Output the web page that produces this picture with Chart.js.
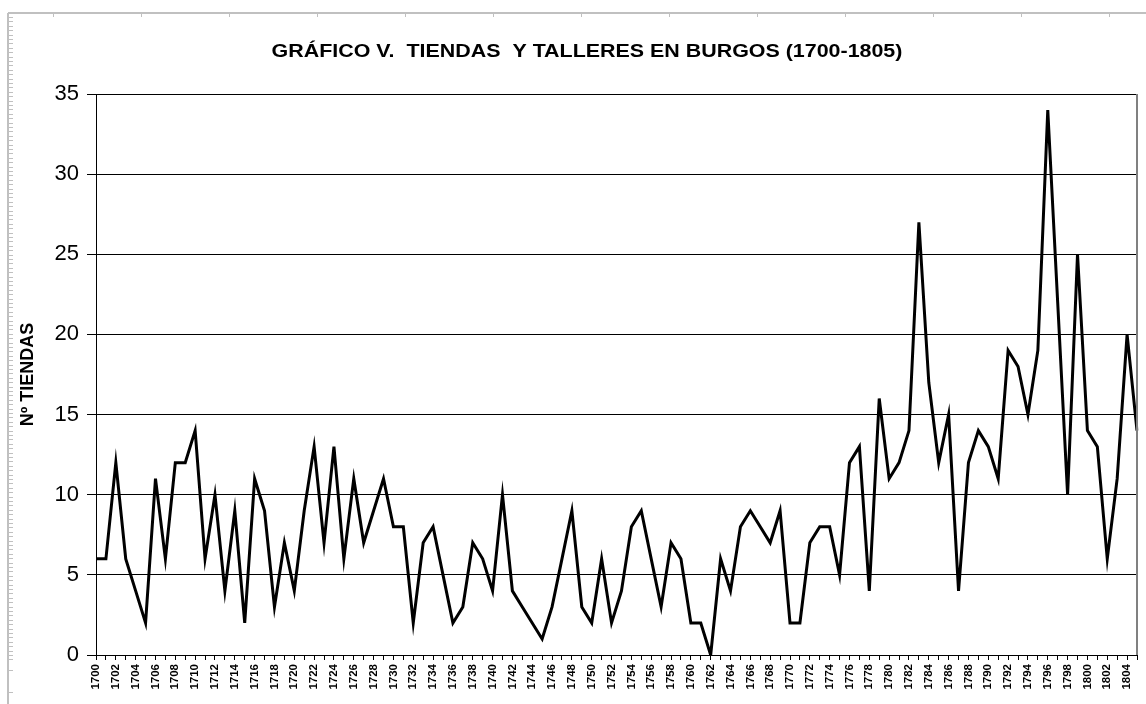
<!DOCTYPE html>
<html>
<head>
<meta charset="utf-8">
<script src="https://cdn.jsdelivr.net/npm/chart.js@4/dist/chart.umd.min.js"></script>
<style>
  html, body { margin: 0; padding: 0; background: #fff; }
  #wrap { width: 1146px; height: 704px; }
</style>
</head>
<body>
<div id="wrap"><canvas id="tiendasChart" width="1146" height="704"></canvas></div>
<script>
// Chart data
const chartTitle = 'GRÁFICO V.  TIENDAS  Y TALLERES EN BURGOS (1700-1805)';
const yAxisTitle = 'Nº TIENDAS';
const years = Array.from({ length: 106 }, (_, i) => String(1700 + i));
const tiendas = [
  6, 6, 12, 6, 4, 2, 11, 6, 12, 12,
  14, 6, 10, 4, 9, 2, 11, 9, 3, 7,
  4, 9, 13, 7, 13, 6, 11, 7, 9, 11,
  8, 8, 2, 7, 8, 5, 2, 3, 7, 6,
  4, 10, 4, 3, 2, 1, 3, 6, 9, 3,
  2, 6, 2, 4, 8, 9, 6, 3, 7, 6,
  2, 2, 0, 6, 4, 8, 9, 8, 7, 9,
  2, 2, 7, 8, 8, 5, 12, 13, 4, 16,
  11, 12, 14, 27, 17, 12, 15, 4, 12, 14,
  13, 11, 19, 18, 15, 19, 34, 22, 10, 25,
  14, 13, 6, 11, 20, 14
];

const FONT = '"Liberation Sans", Arial, sans-serif';

// Frame, title and plot border (spreadsheet look)
const framePlugin = {
  id: 'frame',
  beforeDraw(chart) {
    const c = chart.ctx;
    c.save();
    c.fillStyle = '#fff';
    c.fillRect(0, 0, chart.width, chart.height);
    c.strokeStyle = '#c0c0c0';
    c.lineWidth = 2;
    c.beginPath();
    c.moveTo(8, 13); c.lineTo(chart.width, 13);
    c.moveTo(8, 13); c.lineTo(8, chart.height);
    c.stroke();
    c.lineWidth = 1;
    c.beginPath();
    for (let x = 53; x < chart.width; x += 88) {
      c.moveTo(x + 0.5, 13); c.lineTo(x + 0.5, 17);
    }
    for (let y = 17; y < 660; y += 4.4) {
      c.moveTo(8, Math.round(y) + 0.5); c.lineTo(13, Math.round(y) + 0.5);
    }
    c.moveTo(8, 670.5); c.lineTo(13, 670.5);
    c.moveTo(8, 692.5); c.lineTo(13, 692.5);
    c.stroke();
    c.restore();
  },
  afterDraw(chart) {
    const c = chart.ctx;
    const a = chart.chartArea;
    c.save();
    c.strokeStyle = '#808080';
    c.lineWidth = 2;
    c.beginPath();
    c.moveTo(a.right, a.top);
    c.lineTo(a.right, a.bottom);
    c.stroke();
    // title, stretched a bit wider like the original
    c.fillStyle = '#000';
    c.font = 'bold 18px ' + FONT;
    c.textAlign = 'center';
    c.textBaseline = 'middle';
    c.translate(587, 52);
    c.scale(1.19, 1);
    c.fillText(chartTitle, 0, 0);
    c.restore();
  }
};

const ctx = document.getElementById('tiendasChart').getContext('2d');
const tiendasChart = new Chart(ctx, {
  type: 'line',
  data: {
    labels: years,
    datasets: [{
      label: yAxisTitle,
      data: tiendas,
      borderColor: '#000',
      borderWidth: 3,
      pointRadius: 0,
      tension: 0,
      fill: false
    }]
  },
  options: {
    responsive: false,
    animation: false,
    layout: {
      padding: { top: 94, left: 12, right: 9, bottom: 0 }
    },
    plugins: {
      legend: { display: false },
      tooltip: { enabled: false },
      title: { display: false }
    },
    scales: {
      x: {
        offset: false,
        grid: {
          display: true,
          drawOnChartArea: false,
          drawTicks: true,
          tickLength: 5,
          color: '#000'
        },
        border: { display: true, color: '#000', width: 1 },
        ticks: {
          autoSkip: false,
          minRotation: 90,
          maxRotation: 90,
          padding: 4,
          color: '#000',
          font: { family: FONT, size: 11.5, weight: 'bold' },
          callback: (val, i) => (i % 2 === 0 ? years[i] : '')
        },
        afterFit: scale => {
          scale.height = 49;
          scale.paddingLeft = 0;
          scale.paddingRight = 0;
        }
      },
      y: {
        min: 0,
        max: 35,
        grid: {
          color: '#000',
          lineWidth: 1,
          drawTicks: true,
          tickLength: 9
        },
        border: { display: true, color: '#000', width: 1 },
        ticks: {
          stepSize: 5,
          padding: 8,
          color: '#000',
          font: { family: FONT, size: 22 }
        },
        title: {
          display: true,
          text: yAxisTitle,
          color: '#000',
          padding: { top: 5, bottom: 0 },
          font: { family: FONT, size: 18, weight: 'bold' }
        },
        afterFit: scale => { scale.width = 84; }
      }
    }
  },
  plugins: [framePlugin]
});
</script>
</body>
</html>
